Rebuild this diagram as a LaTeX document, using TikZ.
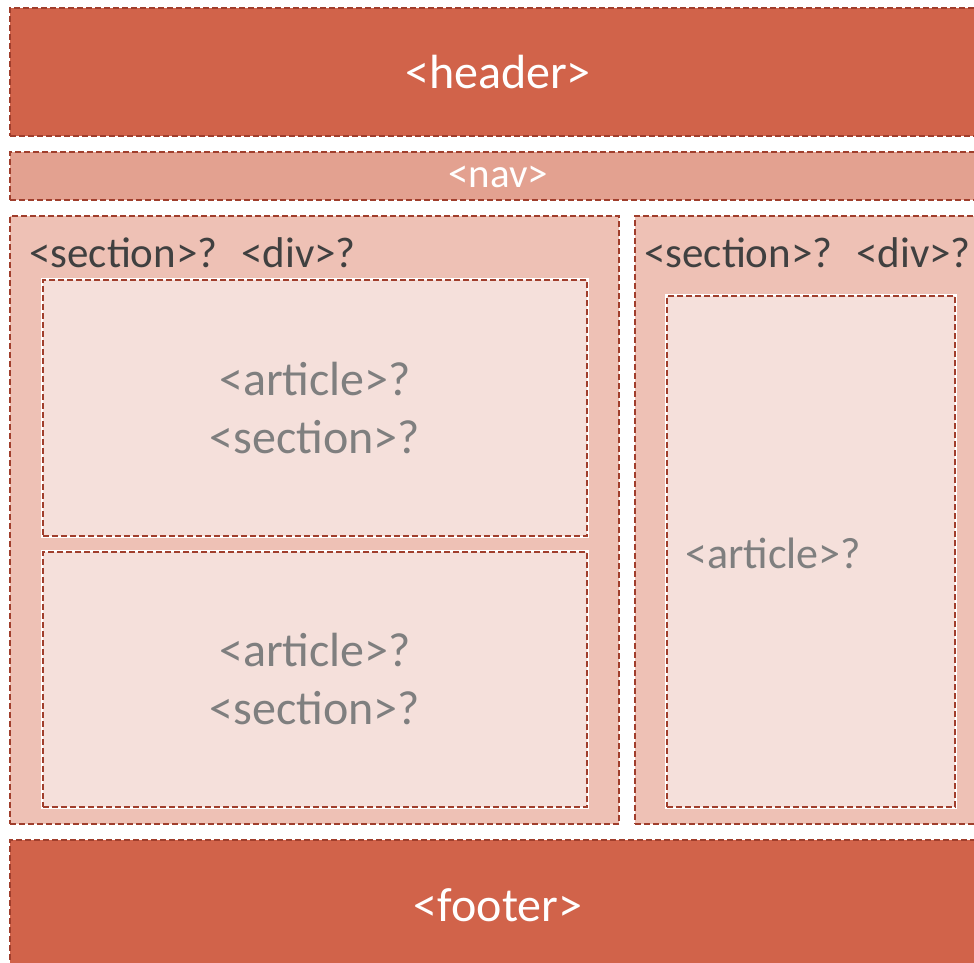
\documentclass[tikz,border=0pt]{standalone}
\usepackage{fontspec}
\setmainfont{Carlito}
\definecolor{hdr}{RGB}{209,99,74}
\definecolor{navc}{RGB}{227,161,144}
\definecolor{secc}{RGB}{238,193,181}
\definecolor{artc}{RGB}{245,224,219}
\definecolor{bord}{RGB}{160,62,44}
\definecolor{darktxt}{RGB}{64,64,64}
\definecolor{graytxt}{RGB}{127,127,127}
\tikzset{
  box/.style={rectangle, inner sep=0pt, draw=bord, line width=2.6pt,
    dash pattern=on 6pt off 3pt,
    preaction={draw=white, line width=4pt, solid}},
  fs/.style={font=\fontsize{#1}{#1}\selectfont}
}
\begin{document}
\begin{tikzpicture}[x=1pt,y=-1pt]
\useasboundingbox (0,0) rectangle (974,963);
\clip (0,0) rectangle (974,963);
% header
\node[box, fill=hdr, minimum width=976pt, minimum height=128pt, text=white, fs=48] (header) at (498,72) {<header>};
% nav
\node[box, fill=navc, minimum width=976pt, minimum height=48pt] (nav) at (498,176) {};
\node[text=white, fs=41, inner sep=0pt] (navlbl) at (498,177) {<nav>};
% sections
\node[box, fill=secc, minimum width=609pt, minimum height=608pt] (secL) at (314.5,520) {};
\node[box, fill=secc, minimum width=351pt, minimum height=608pt] (secR) at (810.5,520) {};
\node[anchor=west, text=darktxt, fs=43, inner sep=0pt] (secLlbl) at (29,253) {<section>?\hspace{0.55em}<div>?};
\node[anchor=west, text=darktxt, fs=43, inner sep=0pt] (secRlbl) at (644,253) {<section>?\hspace{0.55em}<div>?};
% articles left
\node[box, fill=artc, minimum width=544pt, minimum height=256pt, text=graytxt, fs=48, align=center] (artL1) at (315,408) {<article>?\\[10pt]<section>?};
\node[box, fill=artc, minimum width=544pt, minimum height=255pt, text=graytxt, fs=48, align=center] (artL2) at (315,679.5) {<article>?\\[10pt]<section>?};
% article right
\node[box, fill=artc, minimum width=288pt, minimum height=511pt] (artR) at (811,551.5) {};
\node[anchor=west, text=graytxt, fs=44, inner sep=0pt] (artRlbl) at (685,553) {<article>?};
% footer
\node[box, fill=hdr, minimum width=976pt, minimum height=130pt] (footer) at (498,905) {};
\node[text=white, fs=48] (footerlbl) at (498,905) {<footer>};
\end{tikzpicture}
\end{document}
